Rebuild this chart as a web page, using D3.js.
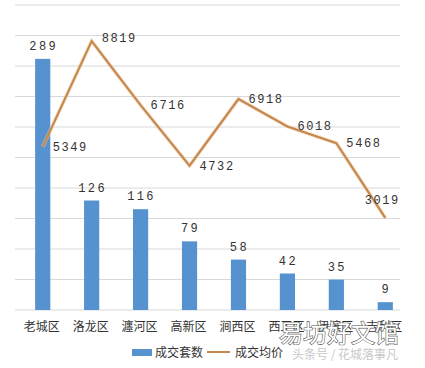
<!DOCTYPE html>
<html><head><meta charset="utf-8">
<script src="https://cdn.jsdelivr.net/npm/d3@7"></script>
<style>body{margin:0;background:#fff}</style>
</head><body>
<script>
const categories = ["老城区","洛龙区","瀍河区","高新区","涧西区","西工区","伊滨区","吉利区"];
const countValues = [289,126,116,79,58,42,35,9];
const priceValues = [5349,8819,6716,4732,6918,6018,5468,3019];
const legendLabels = ["成交套数","成交均价"];

const W=425,H=368;
const svg=d3.select("body").append("svg").attr("width",W).attr("height",H);
const baseY=310, topY=5;
const x=d3.scaleBand().domain(categories).range([18,410]).paddingInner(0.69).paddingOuter(0.35);
const yBar=d3.scaleLinear().domain([0,351]).range([baseY,topY]);
const yLine=d3.scaleLinear().domain([0,10000]).range([baseY,topY]);

// gridlines
const gridTicks=d3.range(0,11).map(i=>i*351/10);
svg.append("g").selectAll("line").data(gridTicks).join("line")
 .attr("x1",15).attr("x2",400)
 .attr("y1",d=>yBar(d)).attr("y2",d=>yBar(d))
 .attr("stroke","#d9d9d9").attr("stroke-width",1);

const cx=d=>x(d)+x.bandwidth()/2;
// bars
svg.append("g").selectAll("rect").data(categories).join("rect")
 .attr("x",d=>x(d)).attr("width",x.bandwidth())
 .attr("y",(d,i)=>yBar(countValues[i])).attr("height",(d,i)=>baseY-yBar(countValues[i]))
 .attr("fill","#5592cf");
// bar labels
svg.append("g").selectAll("text").data(categories).join("text")
 .attr("x",d=>cx(d)+1).attr("y",(d,i)=>yBar(countValues[i])-9)
 .attr("text-anchor","middle").attr("font-family","Liberation Mono, monospace")
 .attr("font-size",12).attr("letter-spacing",2.4).attr("fill","#333")
 .text((d,i)=>countValues[i]);

// line
const line=d3.line().x((d,i)=>cx(categories[i])).y(d=>yLine(d));
svg.append("path").datum(priceValues).attr("d",line)
 .attr("fill","none").attr("stroke","#f3c9a0").attr("stroke-width",4).attr("opacity",0.5);
svg.append("path").datum(priceValues).attr("d",line)
 .attr("fill","none").attr("stroke","#c4894f").attr("stroke-width",2.2).attr("stroke-linejoin","miter");
// line labels
svg.append("g").selectAll("text").data(priceValues).join("text")
 .attr("x",(d,i)=> i===7 ? cx(categories[i])-3 : cx(categories[i])+10)
 .attr("y",(d,i)=> i===7 ? yLine(d)-14 : (i===1? yLine(d)+1 : yLine(d)+4))
 .attr("text-anchor",(d,i)=> i===7?"middle":"start")
 .attr("font-family","Liberation Mono, monospace")
 .attr("font-size",12).attr("letter-spacing",1.6).attr("fill","#333")
 .text(d=>d);

// category labels
svg.append("g").selectAll("text").data(categories).join("text")
 .attr("x",d=>cx(d)-1).attr("y",331).attr("text-anchor","middle")
 .attr("font-family","Noto Sans CJK SC").attr("font-size",12).attr("fill","#333")
 .text(d=>d);

// legend
const lg=svg.append("g");
lg.append("rect").attr("x",132).attr("y",349).attr("width",20).attr("height",7).attr("fill","#5592cf");
lg.append("text").attr("x",155).attr("y",357).attr("font-family","Noto Sans CJK SC").attr("font-size",12).attr("fill","#333").text(legendLabels[0]);
lg.append("line").attr("x1",207).attr("x2",230).attr("y1",352).attr("y2",352).attr("stroke","#c4894f").attr("stroke-width",2);
lg.append("text").attr("x",235).attr("y",357).attr("font-family","Noto Sans CJK SC").attr("font-size",12).attr("fill","#333").text(legendLabels[1]);

// watermark
svg.append("text").attr("x",292).attr("y",359).attr("font-family","Noto Sans CJK SC").attr("font-size",12).attr("fill","#c8c8c8").text("头条号 / 花城落事凡");
svg.append("text").attr("x",279).attr("y",342).attr("font-family","Noto Sans CJK SC").attr("font-size",24)
 .attr("fill","#fff").attr("stroke","#555").attr("stroke-width",1.2).attr("paint-order","stroke").text("易坊好文馆");
</script>
</body></html>
